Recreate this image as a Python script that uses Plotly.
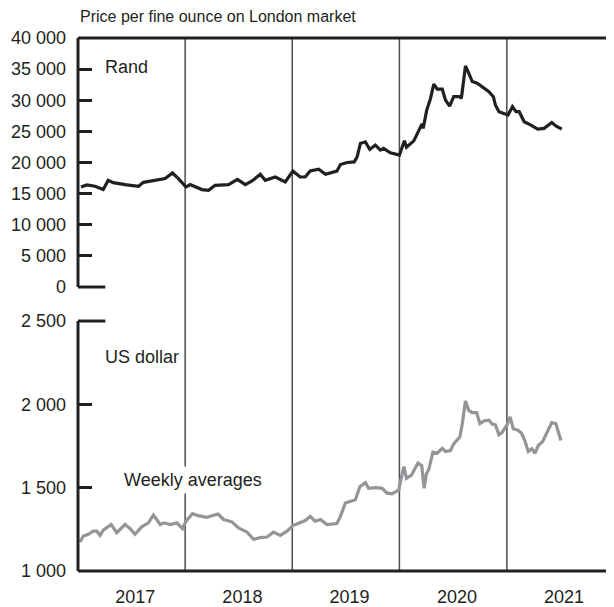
import plotly.graph_objects as go

# ---------------- data ----------------
rand_dates = [
    "2017-01-11", "2017-01-31", "2017-02-28", "2017-03-17", "2017-03-28", "2017-04-14",
    "2017-05-01", "2017-06-10", "2017-07-26", "2017-08-12", "2017-09-09", "2017-10-25",
    "2017-11-19", "2017-12-09", "2018-01-04", "2018-01-18", "2018-02-27", "2018-03-22",
    "2018-04-13", "2018-05-29", "2018-06-28", "2018-07-25", "2018-08-17", "2018-09-14",
    "2018-10-01", "2018-11-04", "2018-12-08", "2019-01-03", "2019-01-28", "2019-02-14",
    "2019-03-03", "2019-04-01", "2019-04-24", "2019-06-02", "2019-06-14", "2019-07-07",
    "2019-07-31", "2019-08-10", "2019-08-21", "2019-09-07", "2019-09-22", "2019-10-11",
    "2019-10-28", "2019-11-08", "2019-12-01", "2020-01-01", "2020-01-18", "2020-01-25",
    "2020-02-19", "2020-03-07", "2020-03-18", "2020-03-22", "2020-04-03", "2020-04-16",
    "2020-04-27", "2020-05-09", "2020-05-26", "2020-06-06", "2020-06-20", "2020-07-04",
    "2020-07-25", "2020-07-30", "2020-08-13", "2020-08-24", "2020-09-05", "2020-09-22",
    "2020-10-15", "2020-11-01", "2020-11-16", "2020-11-23", "2020-12-05", "2020-12-22",
    "2021-01-05", "2021-01-20", "2021-02-01", "2021-02-12", "2021-03-01", "2021-03-24",
    "2021-04-16", "2021-05-08", "2021-06-03", "2021-06-17", "2021-07-07",
]
rand_values = [
    16060, 16390, 16180, 15800, 15650, 17150,
    16770, 16450, 16180, 16820, 17030, 17420,
    18320, 17420, 16060, 16450, 15650, 15530,
    16340, 16450, 17300, 16450, 17030, 18110,
    17140, 17670, 16870, 18610, 17670, 17670,
    18640, 18920, 18110, 18610, 19680, 20000,
    20100, 20900, 23070, 23320, 22100, 22800,
    21990, 22260, 21550, 21180, 23480, 22450,
    23480, 25230, 26200, 25480, 28420, 30300,
    32590, 31790, 31790, 30020, 29050, 30570,
    30570, 30300, 35510, 34360, 33010, 32750,
    31950, 31390, 30570, 29230, 28160, 27900,
    27630, 28970, 28160, 28160, 26550, 26010,
    25370, 25480, 26420, 25880, 25370,
]

usd_dates = [
    "2017-01-08", "2017-01-19", "2017-02-05", "2017-02-22", "2017-03-06", "2017-03-17",
    "2017-03-28", "2017-04-24", "2017-05-13", "2017-06-10", "2017-06-27", "2017-07-14",
    "2017-08-06", "2017-08-29", "2017-09-15", "2017-10-08", "2017-10-22", "2017-11-11",
    "2017-12-04", "2017-12-23", "2018-01-04", "2018-01-26", "2018-02-15", "2018-03-16",
    "2018-04-02", "2018-04-23", "2018-05-12", "2018-06-09", "2018-07-02", "2018-07-31",
    "2018-08-22", "2018-09-14", "2018-10-07", "2018-10-29", "2018-11-21", "2018-12-14",
    "2019-01-03", "2019-01-28", "2019-02-14", "2019-03-03", "2019-03-20", "2019-04-07",
    "2019-04-29", "2019-06-02", "2019-06-14", "2019-07-01", "2019-07-18", "2019-08-04",
    "2019-08-19", "2019-09-07", "2019-09-18", "2019-10-11", "2019-11-03", "2019-11-20",
    "2019-12-07", "2019-12-30", "2020-01-01", "2020-01-16", "2020-01-25", "2020-02-11",
    "2020-03-04", "2020-03-17", "2020-03-25", "2020-04-02", "2020-04-10", "2020-04-24",
    "2020-05-09", "2020-05-26", "2020-06-06", "2020-06-23", "2020-07-04", "2020-07-25",
    "2020-08-02", "2020-08-13", "2020-08-24", "2020-09-05", "2020-09-20", "2020-10-01",
    "2020-10-17", "2020-11-01", "2020-11-12", "2020-11-23", "2020-12-05", "2020-12-16",
    "2021-01-03", "2021-01-12", "2021-01-23", "2021-02-07", "2021-02-20", "2021-03-03",
    "2021-03-15", "2021-03-27", "2021-04-07", "2021-04-18", "2021-05-03", "2021-05-20",
    "2021-06-03", "2021-06-17", "2021-07-04",
]
usd_values = [
    1174, 1210, 1220, 1239, 1239, 1214,
    1245, 1279, 1230, 1279, 1255, 1220,
    1265, 1289, 1336, 1279, 1289, 1279,
    1289, 1254, 1299, 1344, 1332, 1322,
    1332, 1342, 1309, 1295, 1259, 1233,
    1190, 1200, 1204, 1233, 1214, 1239,
    1273, 1289, 1303, 1328, 1299, 1309,
    1279, 1285, 1328, 1408, 1417, 1427,
    1506, 1530, 1496, 1500, 1496, 1467,
    1463, 1486, 1506, 1627, 1556, 1575,
    1648, 1632, 1496, 1585, 1609, 1713,
    1707, 1737, 1717, 1723, 1763, 1806,
    1882, 2020, 1964, 1950, 1950, 1885,
    1901, 1905, 1882, 1877, 1818, 1832,
    1882, 1925, 1852, 1846, 1826, 1783,
    1717, 1733, 1707, 1753, 1777, 1842,
    1891, 1885, 1783,
]

year_labels = ["2017", "2018", "2019", "2020", "2021"]
year_label_pos = ["2017-07-15", "2018-07-15", "2019-07-15", "2020-07-15", "2021-07-15"]
year_boundaries = ["2018-01-01", "2019-01-01", "2020-01-01", "2021-01-01"]

rand_ticks = [0, 5000, 10000, 15000, 20000, 25000, 30000, 35000, 40000]
rand_ticktext = ["0", "5 000", "10 000", "15 000", "20 000", "25 000", "30 000", "35 000", "40 000"]
usd_ticks = [1000, 1500, 2000, 2500]
usd_ticktext = ["1 000", "1 500", "2 000", "2 500"]

# ---------------- figure ----------------
INK = "#231f20"
FONT = "Liberation Sans, Arial, sans-serif"
TOP_DOM = [0.5328, 1.0]
BOT_DOM = [0.0, 0.469]
FS = 18

fig = go.Figure()
fig.add_trace(go.Scatter(x=rand_dates, y=rand_values, mode="lines",
                         line=dict(color=INK, width=3.2), xaxis="x2", yaxis="y",
                         showlegend=False, hoverinfo="x+y"))
fig.add_trace(go.Scatter(x=usd_dates, y=usd_values, mode="lines",
                         line=dict(color="#939598", width=3.2), xaxis="x", yaxis="y2",
                         showlegend=False, hoverinfo="x+y"))

shapes = []
for d in year_boundaries:
    shapes.append(dict(type="line", xref="x", yref="paper", x0=d, x1=d, y0=0, y1=1,
                       line=dict(color="#4d4d4d", width=1.5), layer="below"))
# top panel frame
shapes.append(dict(type="line", xref="paper", yref="paper", x0=0, x1=0,
                   y0=TOP_DOM[0], y1=TOP_DOM[1], line=dict(color=INK, width=3)))
shapes.append(dict(type="line", xref="paper", yref="paper", x0=0, x1=1,
                   y0=TOP_DOM[1], y1=TOP_DOM[1], line=dict(color=INK, width=3)))
shapes.append(dict(type="line", xref="paper", yref="paper", x0=0, x1=0.051,
                   y0=TOP_DOM[0], y1=TOP_DOM[0], line=dict(color=INK, width=3)))
# bottom panel frame
shapes.append(dict(type="line", xref="paper", yref="paper", x0=0, x1=0,
                   y0=BOT_DOM[0], y1=BOT_DOM[1], line=dict(color=INK, width=3)))
shapes.append(dict(type="line", xref="paper", yref="paper", x0=0, x1=0.051,
                   y0=BOT_DOM[1], y1=BOT_DOM[1], line=dict(color=INK, width=3)))
shapes.append(dict(type="line", xref="paper", yref="paper", x0=0, x1=1,
                   y0=BOT_DOM[0], y1=BOT_DOM[0], line=dict(color=INK, width=3)))

annotations = [
    dict(text="Price per fine ounce on London market", xref="paper", yref="paper",
         x=0, y=1, yshift=22, xanchor="left", yanchor="middle", showarrow=False,
         font=dict(size=16, color=INK)),
    dict(text="Rand", xref="paper", yref="paper", x=0.046, y=0.945,
         xanchor="left", yanchor="middle", showarrow=False, font=dict(size=FS, color=INK)),
    dict(text="US dollar", xref="paper", yref="paper", x=0.046, y=0.401,
         xanchor="left", yanchor="middle", showarrow=False, font=dict(size=FS, color=INK)),
    dict(text="Weekly averages", xref="paper", yref="paper", x=0.078, y=0.17,
         xanchor="left", yanchor="middle", showarrow=False, bgcolor="white",
         borderpad=3, font=dict(size=FS, color=INK)),
]

axis_common = dict(showgrid=False, zeroline=False, showline=False,
                   ticks="inside", ticklen=14, tickwidth=3, tickcolor=INK,
                   tickfont=dict(size=FS, color=INK, family=FONT), ticklabelstandoff=11)

fig.update_layout(
    width=606, height=599,
    margin=dict(l=70, r=0, t=30, b=36),
    paper_bgcolor="white", plot_bgcolor="white",
    font=dict(family=FONT, color=INK),
    xaxis=dict(domain=[0, 1], anchor="y2", type="date",
               range=["2017-01-01", "2022-01-01"], showgrid=False, zeroline=False,
               showline=False, ticks="", tickvals=year_label_pos, ticktext=year_labels,
               tickfont=dict(size=FS, color=INK, family=FONT), ticklabelstandoff=13),
    xaxis2=dict(domain=[0, 1], anchor="y", matches="x", type="date", visible=False),
    yaxis=dict(domain=TOP_DOM, anchor="x2", range=[0, 40000],
               tickvals=rand_ticks, ticktext=rand_ticktext, **axis_common),
    yaxis2=dict(domain=BOT_DOM, anchor="x", range=[1000, 2500],
                tickvals=usd_ticks, ticktext=usd_ticktext, **axis_common),
    shapes=shapes, annotations=annotations,
)

fig.write_html("out.html")
